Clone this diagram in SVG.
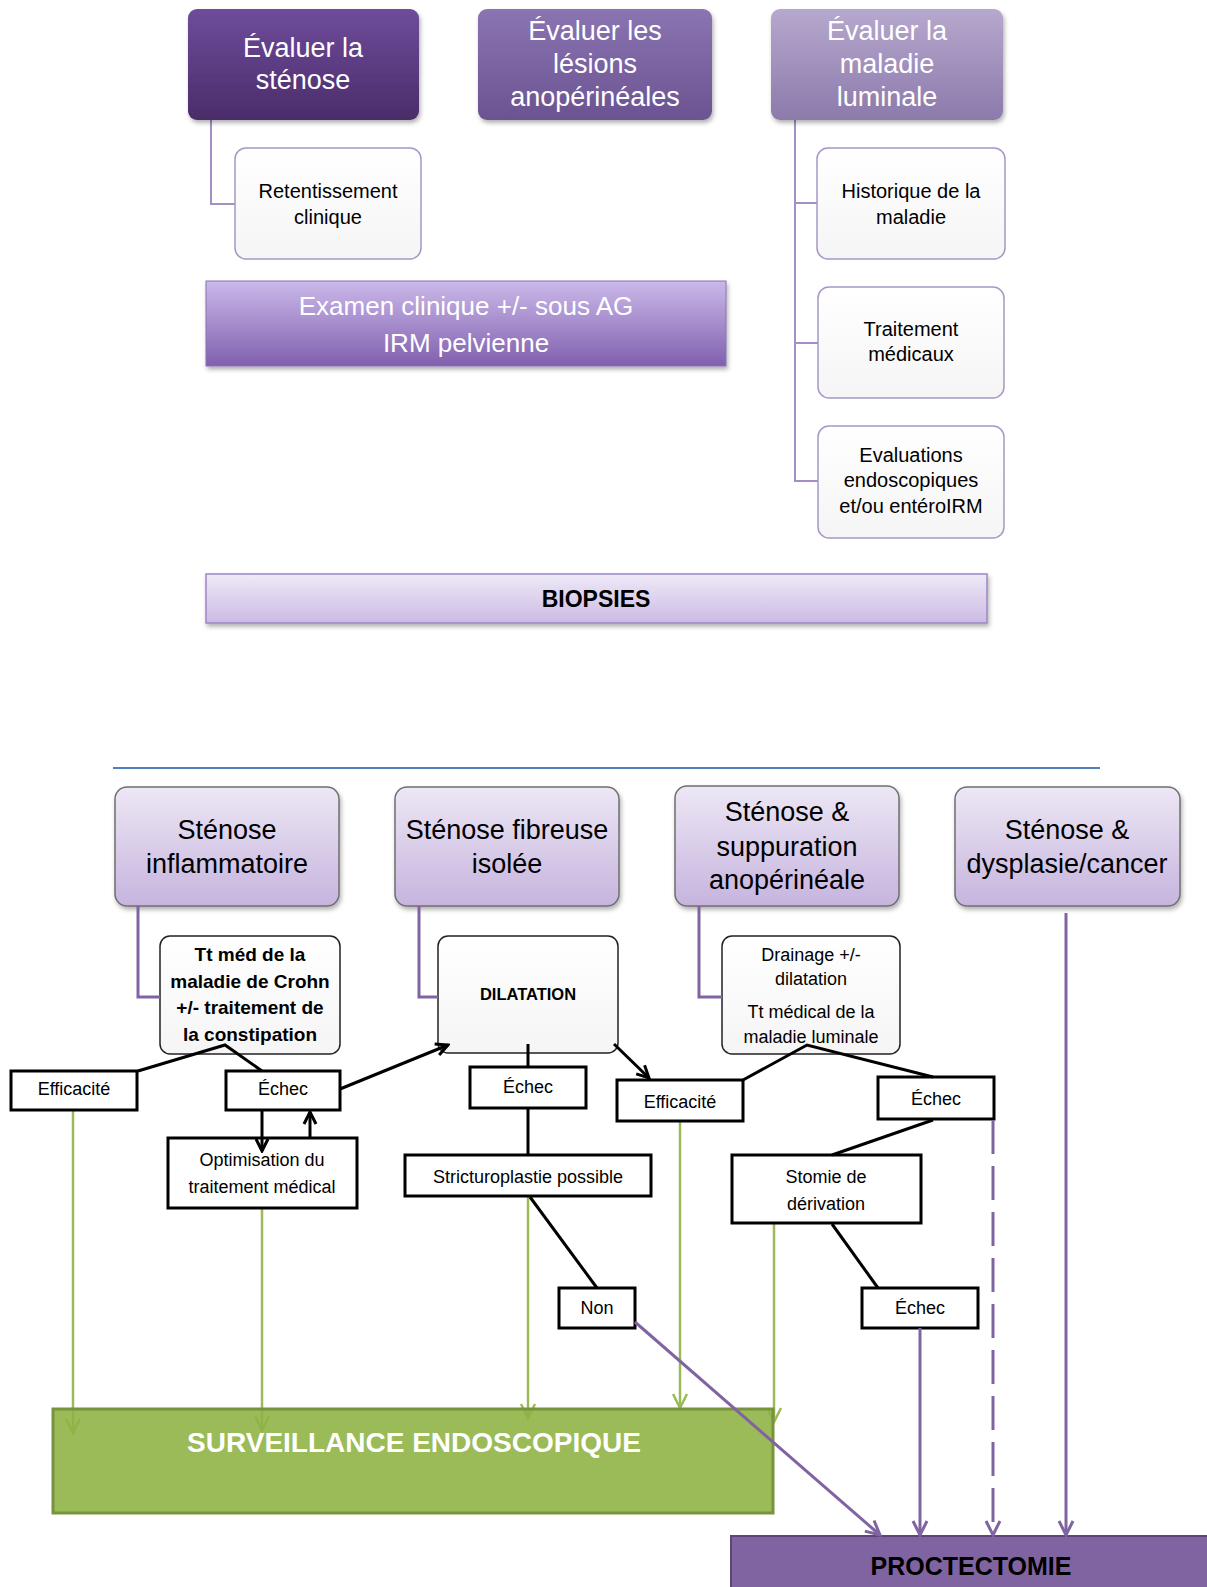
<svg xmlns="http://www.w3.org/2000/svg" width="1207" height="1587" viewBox="0 0 1207 1587">
<defs>
<linearGradient id="gA" x1="0" y1="0" x2="0" y2="1"><stop offset="0" stop-color="#6f4c9b"/><stop offset="1" stop-color="#4a2c6a"/></linearGradient>
<linearGradient id="gB" x1="0" y1="0" x2="0" y2="1"><stop offset="0" stop-color="#8b74b2"/><stop offset="1" stop-color="#6b5391"/></linearGradient>
<linearGradient id="gC" x1="0" y1="0" x2="0" y2="1"><stop offset="0" stop-color="#b6a8ce"/><stop offset="1" stop-color="#8c7aab"/></linearGradient>
<linearGradient id="gEx" x1="0" y1="0" x2="0" y2="1"><stop offset="0" stop-color="#cbb9ea"/><stop offset="1" stop-color="#8060ad"/></linearGradient>
<linearGradient id="gBio" x1="0" y1="0" x2="0" y2="1"><stop offset="0" stop-color="#efe9f7"/><stop offset="1" stop-color="#cbbbe4"/></linearGradient>
<linearGradient id="gH" x1="0" y1="0" x2="0" y2="1"><stop offset="0" stop-color="#ede7f5"/><stop offset="1" stop-color="#c6b4de"/></linearGradient>
<linearGradient id="gW" x1="0" y1="0" x2="0" y2="1"><stop offset="0" stop-color="#ffffff"/><stop offset="1" stop-color="#f5f5f5"/></linearGradient>
<filter id="sh" x="-10%" y="-10%" width="120%" height="130%"><feDropShadow dx="1.5" dy="3" stdDeviation="2" flood-color="#000" flood-opacity="0.3"/></filter>
<marker id="ab" markerUnits="userSpaceOnUse" viewBox="0 0 16 16" refX="14" refY="8" markerWidth="16" markerHeight="16" orient="auto"><path d="M2,2 L14,8 L2,14" fill="none" stroke="#000" stroke-width="3"/></marker>
<marker id="ag" markerUnits="userSpaceOnUse" viewBox="0 0 18 18" refX="16" refY="9" markerWidth="18" markerHeight="18" orient="auto"><path d="M2,2 L16,9 L2,16" fill="none" stroke="#9bbb59" stroke-width="2.5"/></marker>
<marker id="ap" markerUnits="userSpaceOnUse" viewBox="0 0 18 18" refX="16" refY="9" markerWidth="18" markerHeight="18" orient="auto"><path d="M2,2 L16,9 L2,16" fill="none" stroke="#8064a2" stroke-width="3"/></marker>
</defs>
<style>
text{font-family:"Liberation Sans",Arial,sans-serif;text-anchor:middle}
.h1{fill:#fff;font-size:27px}
.c1{fill:#000;font-size:20px}
.ex{fill:#fff;font-size:26px}
.bio{fill:#000;font-size:23px;font-weight:bold}
.h2{fill:#000;font-size:27px}
.tb{fill:#000;font-size:19px;font-weight:bold}
.dl{fill:#000;font-size:16.5px;font-weight:bold}
.dr{fill:#000;font-size:18px}
.dc{fill:#000;font-size:18px}
.sv{fill:#fff;font-size:28px;font-weight:bold}
.pr{fill:#000;font-size:25px;font-weight:bold}
.child{fill:url(#gW);stroke:#a896c8;stroke-width:1.5}
.hdr{fill:url(#gH);stroke:#6f6f6f;stroke-width:1.5}
.rbox{fill:url(#gW);stroke:#222;stroke-width:1.5}
.dec{fill:#fff;stroke:#000;stroke-width:3}
.lt{fill:none;stroke:#a28fc4;stroke-width:2}
.lp{fill:none;stroke:#8064a2;stroke-width:3}
.lb{fill:none;stroke:#000;stroke-width:3}
.lg{fill:none;stroke:#9bbb59;stroke-width:2.5}
</style>
<rect width="1207" height="1587" fill="#fff"/>

<g id="connectors-top">
<polyline class="lt" points="211,120 211,204 235,204"/>
<polyline class="lt" points="795,120 795,481 818,481"/>
<line class="lt" x1="795" y1="203" x2="817" y2="203"/>
<line class="lt" x1="795" y1="343" x2="818" y2="343"/>
</g>

<g id="n-eval-stenose"><rect x="188" y="9" width="231" height="111" rx="9" fill="url(#gA)" filter="url(#sh)"/><text class="h1" x="303" y="57">Évaluer la</text><text class="h1" x="303" y="89">sténose</text></g>
<g id="n-eval-lesions"><rect x="478" y="9" width="234" height="111" rx="9" fill="url(#gB)" filter="url(#sh)"/><text class="h1" x="595" y="40">Évaluer les</text><text class="h1" x="595" y="73">lésions</text><text class="h1" x="595" y="106">anopérinéales</text></g>
<g id="n-eval-luminale"><rect x="771" y="9" width="232" height="111" rx="9" fill="url(#gC)" filter="url(#sh)"/><text class="h1" x="887" y="40">Évaluer la</text><text class="h1" x="887" y="73">maladie</text><text class="h1" x="887" y="106">luminale</text></g>

<g id="n-retentissement"><rect class="child" x="235" y="148" width="186" height="111" rx="11"/><text class="c1" x="328" y="198">Retentissement</text><text class="c1" x="328" y="224">clinique</text></g>
<g id="n-historique"><rect class="child" x="817" y="148" width="188" height="111" rx="11"/><text class="c1" x="911" y="198">Historique de la</text><text class="c1" x="911" y="224">maladie</text></g>
<g id="n-traitement"><rect class="child" x="818" y="287" width="186" height="111" rx="11"/><text class="c1" x="911" y="336">Traitement</text><text class="c1" x="911" y="361">médicaux</text></g>
<g id="n-evaluations"><rect class="child" x="818" y="426" width="186" height="112" rx="11"/><text class="c1" x="911" y="462">Evaluations</text><text class="c1" x="911" y="487">endoscopiques</text><text class="c1" x="911" y="513">et/ou entéroIRM</text></g>

<g id="n-examen"><rect x="206" y="281" width="520" height="85" fill="url(#gEx)" stroke="#8a70b5" stroke-width="1" filter="url(#sh)"/><text class="ex" x="466" y="315">Examen clinique +/- sous AG</text><text class="ex" x="466" y="352">IRM pelvienne</text></g>
<g id="n-biopsies"><rect x="206" y="574" width="781" height="49" fill="url(#gBio)" stroke="#9c86c6" stroke-width="1.5" filter="url(#sh)"/><text class="bio" x="596" y="607">BIOPSIES</text></g>

<line x1="113" y1="768" x2="1100" y2="768" stroke="#4f81bd" stroke-width="2"/>

<g id="connectors-green">
<line class="lg" x1="73" y1="1111" x2="73" y2="1433" marker-end="url(#ag)"/>
<line class="lg" x1="262" y1="1208" x2="262" y2="1430" marker-end="url(#ag)"/>
<line class="lg" x1="528" y1="1197" x2="528" y2="1418" marker-end="url(#ag)"/>
<line class="lg" x1="680" y1="1121" x2="680" y2="1408" marker-end="url(#ag)"/>
<line class="lg" x1="774" y1="1224" x2="774" y2="1422" marker-end="url(#ag)"/>
</g>

<g id="n-surveillance"><rect x="53" y="1409" width="720" height="104" fill="#8db242" fill-opacity="0.88" stroke="#77933c" stroke-width="3"/><text class="sv" x="414" y="1452">SURVEILLANCE ENDOSCOPIQUE</text></g>
<g id="n-proctectomie"><rect x="731" y="1536" width="490" height="60" fill="#8064a2" stroke="#5c4579" stroke-width="2"/><text class="pr" x="971" y="1575">PROCTECTOMIE</text></g>

<g id="n-sten-inflam"><rect class="hdr" x="115" y="787" width="224" height="119" rx="12" filter="url(#sh)"/><text class="h2" x="227" y="839">Sténose</text><text class="h2" x="227" y="873">inflammatoire</text></g>
<g id="n-sten-fibreuse"><rect class="hdr" x="395" y="787" width="224" height="119" rx="12" filter="url(#sh)"/><text class="h2" x="507" y="839">Sténose fibreuse</text><text class="h2" x="507" y="873">isolée</text></g>
<g id="n-sten-suppuration"><rect class="hdr" x="675" y="786" width="224" height="120" rx="12" filter="url(#sh)"/><text class="h2" x="787" y="821">Sténose &amp;</text><text class="h2" x="787" y="856">suppuration</text><text class="h2" x="787" y="889">anopérinéale</text></g>
<g id="n-sten-dysplasie"><rect class="hdr" x="955" y="787" width="225" height="119" rx="12" filter="url(#sh)"/><text class="h2" x="1067" y="839">Sténose &amp;</text><text class="h2" x="1067" y="873">dysplasie/cancer</text></g>

<g id="n-tt-med"><rect class="rbox" x="160" y="936" width="180" height="118" rx="10"/><text class="tb" x="250" y="961">Tt méd de la</text><text class="tb" x="250" y="988">maladie de Crohn</text><text class="tb" x="250" y="1014">+/- traitement de</text><text class="tb" x="250" y="1041">la constipation</text></g>
<g id="n-dilatation"><rect class="rbox" x="438" y="936" width="180" height="117" rx="10"/><text class="dl" x="528" y="1000">DILATATION</text></g>
<g id="n-drainage"><rect class="rbox" x="722" y="936" width="178" height="118" rx="10"/><text class="dr" x="811" y="961">Drainage +/-</text><text class="dr" x="811" y="985">dilatation</text><text class="dr" x="811" y="1018">Tt médical de la</text><text class="dr" x="811" y="1043">maladie luminale</text></g>

<g id="n-efficacite-1"><rect class="dec" x="11" y="1071" width="126" height="39"/><text class="dc" x="74" y="1095">Efficacité</text></g>
<g id="n-echec-1"><rect class="dec" x="226" y="1071" width="114" height="39"/><text class="dc" x="283" y="1095">Échec</text></g>
<g id="n-optimisation"><rect class="dec" x="168" y="1138" width="189" height="70"/><text class="dc" x="262" y="1166">Optimisation du</text><text class="dc" x="262" y="1193">traitement médical</text></g>
<g id="n-echec-2"><rect class="dec" x="470" y="1067" width="116" height="41"/><text class="dc" x="528" y="1093">Échec</text></g>
<g id="n-stricturoplastie"><rect class="dec" x="405" y="1155" width="246" height="41"/><text class="dc" x="528" y="1183">Stricturoplastie possible</text></g>
<g id="n-non"><rect class="dec" x="559" y="1288" width="76" height="40"/><text class="dc" x="597" y="1314">Non</text></g>
<g id="n-efficacite-2"><rect class="dec" x="617" y="1080" width="126" height="41"/><text class="dc" x="680" y="1108">Efficacité</text></g>
<g id="n-echec-3"><rect class="dec" x="878" y="1077" width="116" height="42"/><text class="dc" x="936" y="1105">Échec</text></g>
<g id="n-stomie"><rect class="dec" x="732" y="1155" width="189" height="68"/><text class="dc" x="826" y="1183">Stomie de</text><text class="dc" x="826" y="1210">dérivation</text></g>
<g id="n-echec-4"><rect class="dec" x="862" y="1288" width="116" height="40"/><text class="dc" x="920" y="1314">Échec</text></g>

<g id="connectors">
<polyline class="lp" points="138,906 138,997 160,997"/>
<polyline class="lp" points="419,906 419,997 438,997"/>
<polyline class="lp" points="699,906 699,997 722,997"/>
<line class="lp" x1="1066" y1="913" x2="1066" y2="1535" marker-end="url(#ap)"/>
<line class="lp" x1="635" y1="1322" x2="880" y2="1535" marker-end="url(#ap)"/>
<line class="lp" x1="920" y1="1328" x2="920" y2="1535" marker-end="url(#ap)"/>
<line class="lp" x1="993" y1="1120" x2="993" y2="1535" stroke-dasharray="34 12" marker-end="url(#ap)"/>
<polyline class="lb" points="138,1071 225,1045 262,1071"/>
<line class="lb" x1="340" y1="1089" x2="448" y2="1045" marker-end="url(#ab)"/>
<line class="lb" x1="262" y1="1110" x2="262" y2="1151" marker-end="url(#ab)"/>
<line class="lb" x1="310" y1="1138" x2="310" y2="1112" marker-end="url(#ab)"/>
<line class="lb" x1="528" y1="1044" x2="528" y2="1067"/>
<line class="lb" x1="528" y1="1108" x2="528" y2="1155"/>
<line class="lb" x1="530" y1="1197" x2="597" y2="1288"/>
<line class="lb" x1="614" y1="1044" x2="649" y2="1078" marker-end="url(#ab)"/>
<polyline class="lb" points="743,1080 807,1045 933,1077"/>
<line class="lb" x1="933" y1="1120" x2="832" y2="1155"/>
<line class="lb" x1="832" y1="1224" x2="878" y2="1288"/>
</g>
</svg>
